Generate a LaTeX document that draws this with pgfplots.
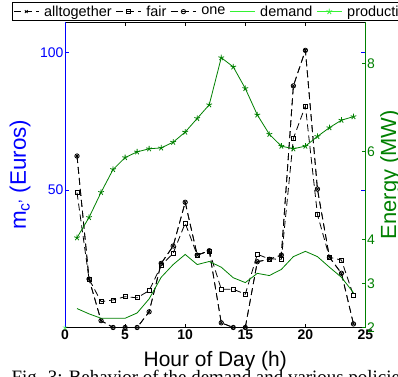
\documentclass[border=0pt]{standalone}
\usepackage{pgfplots}
\pgfplotsset{compat=1.18}
\usepackage{fontspec}
\setmainfont{Liberation Sans}
\newfontfamily\seriffont{Liberation Serif}
\definecolor{mgreen}{rgb}{0,0.5,0}
\definecolor{lgreen}{rgb}{0.2,0.95,0.2}
\definecolor{mblue}{rgb}{0,0,1}
\pgfplotsset{mylegend/.style={legend image code/.code={\draw[mark repeat=2,mark phase=2,##1] plot coordinates {(0bp,0bp)(12.5bp,0bp)(25bp,0bp)};}}}
\begin{document}
\begin{tikzpicture}
\useasboundingbox (-65bp,-49.5bp) rectangle (333bp,327.5bp);
\clip (-65bp,-49.5bp) rectangle (333bp,327.5bp);
\begin{axis}[
 scale only axis, width=300.5bp, height=305.5bp,
 at={(0,0)}, anchor=south west,
 xmin=0, xmax=25, ymin=0, ymax=111,
 xtick={0,5,10,15,20,25}, xticklabels={0,5,10,15,20,25},
 ytick={50,100}, yticklabels={50,100},
 tick align=inside, major tick length=4bp,
 separate axis lines,
 x axis line style={black, line width=0.8bp},
 y axis line style={mblue, line width=0.8bp},
 xtick style={black, line width=0.6bp},
 ytick style={mblue, line width=0.6bp},
 xticklabel style={font=\fontsize{14}{14}\selectfont\bfseries, inner sep=2bp},
 yticklabel style={font=\fontsize{14}{14}\selectfont, text=mblue, inner sep=1.5bp},
 xlabel={Hour of Day (h)},
 xlabel style={font=\fontsize{21}{21}\selectfont, at={(axis description cs:0.5,0)}, anchor=base, yshift=-38.5bp},
 ylabel={m\textsubscript{c'} (Euros)},
 ylabel style={font=\fontsize{22.5}{22.5}\selectfont, text=mblue, at={(axis description cs:-0.1298,0.5)}, anchor=base},
 legend columns=5,
 legend style={at={(axis description cs:-0.1764,1.0033)}, anchor=south west, draw=black, line width=0.8bp,
   font=\fontsize{14.5}{16}\selectfont, inner sep=1bp, nodes={inner sep=2bp},
   /tikz/every odd column/.append style={column sep=3bp},
   /tikz/every even column/.append style={column sep=2bp}},
 legend cell align=left,
 mylegend,
]
\addplot[mylegend, black, line width=0.8bp, dash pattern=on 7bp off 4bp, mark=x, mark size=2bp, mark options={solid}] coordinates {
(1,62.3)(2,17.6)(3,2.5)(4,0)(5,0)(6,0)(7,5.7)(8,23.3)(9,29.6)(10,45.5)(11,26.3)(12,27.9)
(13,1.7)(14,0)(15,0)(16,23.9)(17,24.8)(18,26.3)(19,87.8)(20,100.7)(21,50.3)(22,25.5)(23,19.7)(24,1.3)};
\addlegendentry{alltogether}
\addplot[mylegend, black, line width=0.8bp, dash pattern=on 7bp off 4bp, mark=square, mark size=2bp, mark options={solid}] coordinates {
(1,49.0)(2,17.6)(3,9.4)(4,10.0)(5,11.2)(6,10.8)(7,13.4)(8,22.5)(9,27.0)(10,37.9)(11,26.3)(12,27.8)
(13,13.9)(14,13.9)(15,12.1)(16,26.6)(17,24.9)(18,24.8)(19,68.7)(20,80.5)(21,41.1)(22,25.5)(23,24.5)(24,11.6)};
\addlegendentry{fair}
\addplot[mylegend, black, line width=0.8bp, dash pattern=on 7bp off 4bp, mark=o, mark size=2.2bp, mark options={solid}] coordinates {
(1,62.3)(2,17.6)(3,2.5)(4,0)(5,0)(6,0)(7,5.7)(8,23.3)(9,29.6)(10,45.5)(11,26.3)(12,27.9)
(13,1.7)(14,0)(15,0)(16,23.9)(17,24.8)(18,26.3)(19,87.8)(20,100.7)(21,50.3)(22,25.5)(23,19.7)(24,1.3)};
\addlegendentry{one}
\addlegendimage{mylegend, lgreen, line width=0.8bp}
\addlegendentry{demand}
\addlegendimage{mylegend, lgreen, line width=0.8bp, mark=star, mark size=3bp}
\addlegendentry{production}
\end{axis}
\begin{axis}[
 scale only axis, width=300.5bp, height=305.5bp,
 at={(0,0)}, anchor=south west,
 xmin=0, xmax=25, ymin=2, ymax=8.94,
 axis x line=none, axis y line*=right,
 ytick={2,3,4,6,8}, yticklabels={2,3,4,6,8},
 tick align=inside, major tick length=4bp,
 y axis line style={mgreen, line width=0.8bp, -},
 ytick style={mgreen, line width=0.6bp},
 yticklabel style={font=\fontsize{14}{14}\selectfont, text=mgreen, inner sep=1.5bp},
 ylabel={Energy (MW)},
 ylabel style={font=\fontsize{22}{22}\selectfont, text=mgreen, at={(axis description cs:1.1015,0.5)}, anchor=base},
]
\addplot[mgreen, line width=0.8bp] coordinates {
(1,2.43)(2,2.31)(3,2.21)(4,2.21)(5,2.21)(6,2.33)(7,2.65)(8,3.14)(9,3.43)(10,3.66)(11,3.43)(12,3.50)
(13,3.37)(14,3.13)(15,3.02)(16,3.23)(17,3.18)(18,3.32)(19,3.61)(20,3.73)(21,3.61)(22,3.37)(23,3.14)(24,2.79)};
\addplot[mgreen, line width=0.8bp, mark=star, mark size=3bp] coordinates {
(1,4.04)(2,4.50)(3,5.07)(4,5.59)(5,5.86)(6,5.99)(7,6.06)(8,6.08)(9,6.21)(10,6.44)(11,6.75)(12,7.06)
(13,8.13)(14,7.92)(15,7.43)(16,6.83)(17,6.39)(18,6.12)(19,6.06)(20,6.12)(21,6.34)(22,6.54)(23,6.71)(24,6.79)};
\addplot[only marks, lgreen, mark=star, mark size=2.5bp] coordinates {(0,2)};
\end{axis}
\node[anchor=base west, font=\seriffont\fontsize{19}{19}\selectfont] at (-57bp,-55.5bp) {Fig. 3: Behavior of the demand and various policies};
\end{tikzpicture}
\end{document}
